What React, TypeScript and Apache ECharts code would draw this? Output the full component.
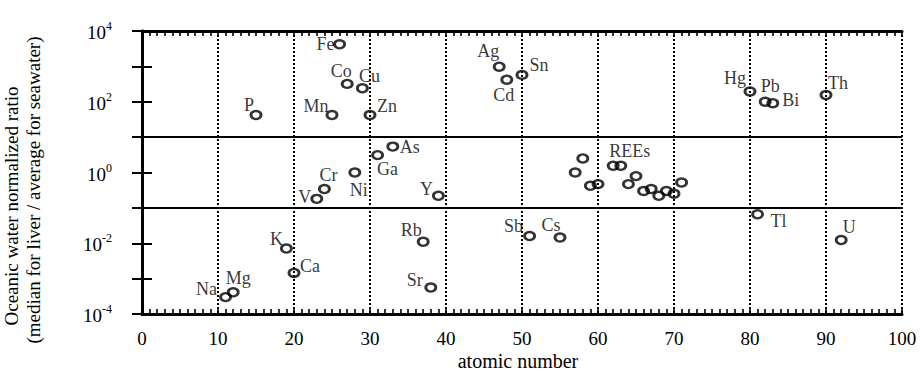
import React, { useEffect, useRef } from "react";
import * as echarts from "echarts";

const elements = ["Na","Mg","P","K","Ca","V","Cr","Mn","Fe","Co","Ni","Cu","Zn","Ga","As","Rb","Sr","Y","Ag","Cd","Sn","Sb","Cs","La","Ce","Pr","Nd","Sm","Eu","Gd","Tb","Dy","Ho","Er","Tm","Yb","Lu","Hg","Tl","Pb","Bi","Th","U"];
const atomicNumbers = [11,12,15,19,20,23,24,25,26,27,28,29,30,31,33,37,38,39,47,48,50,51,55,57,58,59,60,62,63,64,65,66,67,68,69,70,71,80,81,82,83,90,92];
const ratios = [3.0e-4,4.1e-4,42,7.1e-3,1.45e-3,0.18,0.34,42,4200,320,1.0,240,42,3.1,5.4,0.011,5.6e-4,0.22,980,420,575,0.016,0.0145,1.0,2.5,0.42,0.47,1.55,1.55,0.47,0.79,0.30,0.34,0.22,0.30,0.25,0.52,195,0.066,100,91,155,0.0123];

const yTitleLines = ["Oceanic water normalized ratio", "(median for liver / average for seawater)"];
const xTitle = "atomic number";

// label text overrides (REE group labelled once)
const labelText: Record<string, string> = { Eu: "REEs" };
// label offsets in px relative to marker centre
const labelOffsets: Record<string, [number, number]> = {
  Fe: [-14, 0], Co: [-6, -13], Cu: [7, -12], Mn: [-16, -9], Zn: [17, -9], P: [-7, -10],
  As: [17, 0], Ga: [10, 14], Ni: [4, 17], Cr: [4, -14], V: [-12, -2], Y: [-12, -7],
  K: [-10, -10], Ca: [16, -7], Na: [-19, -8], Mg: [5, -14], Rb: [-12, -12], Sr: [-16, -8],
  Ag: [-11, -16], Cd: [-3, 15], Sn: [17, -10], Hg: [-15, -13], Pb: [5, -16], Bi: [18, -3],
  Th: [12, -12], Eu: [9, -15], Sb: [-16, -10], Cs: [-9, -13], Tl: [21, 7], U: [8, -13],
};
const guideLevels = [10, 0.1];

const FONT = "Liberation Serif";

export default function App() {
  const ref = useRef<HTMLDivElement>(null);
  useEffect(() => {
    if (!ref.current) return;
    const chart = echarts.init(ref.current, undefined, { renderer: "svg" });
    const data = elements.map((el, i) => {
      const off = labelOffsets[el];
      return {
        name: el,
        value: [atomicNumbers[i], ratios[i]],
        label: off
          ? {
              show: true,
              position: "inside",
              offset: off,
              formatter: labelText[el] ?? el,
              align: "center",
              verticalAlign: "middle",
            }
          : { show: false },
      };
    });
    const xCommon = {
      type: "value",
      min: 0,
      max: 100,
      interval: 10,
      axisLine: { show: true, lineStyle: { color: "#000", width: 3 } },
      axisTick: { show: true, inside: true, length: 6, lineStyle: { color: "#000", width: 1.6 } },
      minorTick: { show: true, splitNumber: 10, length: 5, lineStyle: { color: "#000", width: 1.6 } },
    };
    const yCommon = {
      type: "log",
      logBase: 10,
      min: 1e-4,
      max: 1e4,
      interval: 1,
      axisLine: { show: true, lineStyle: { color: "#000", width: 3 } },
      axisTick: { show: true, inside: true, length: 10, lineStyle: { color: "#000", width: 2 } },
      splitLine: { show: false },
      minorTick: { show: false },
    };
    chart.setOption({
      animation: false,
      backgroundColor: "#fff",
      textStyle: { fontFamily: FONT, color: "#000" },
      grid: { left: 142, right: 19, top: 31, bottom: 57, containLabel: false, outerBoundsMode: "none" },
      graphic: [
        {
          type: "text",
          x: 11,
          y: 206,
          rotation: Math.PI / 2,
          style: { text: yTitleLines[0], font: `19px "${FONT}"`, fill: "#000", align: "center", verticalAlign: "middle" },
        },
        {
          type: "text",
          x: 33,
          y: 190,
          rotation: Math.PI / 2,
          style: { text: yTitleLines[1], font: `19px "${FONT}"`, fill: "#000", align: "center", verticalAlign: "middle" },
        },
        {
          type: "text",
          x: 518,
          y: 361,
          style: { text: xTitle, font: `20px "${FONT}"`, fill: "#000", align: "center", verticalAlign: "middle" },
        },
      ],
      xAxis: [
        {
          ...xCommon,
          position: "bottom",
          axisLabel: { show: true, margin: 15, fontFamily: FONT, fontSize: 19, color: "#000" },
          splitLine: { show: true, lineStyle: { color: "#000", width: 2, type: [2, 2] } },
        },
        {
          ...xCommon,
          position: "top",
          axisLabel: { show: false },
          splitLine: { show: false },
        },
      ],
      yAxis: [
        {
          ...yCommon,
          position: "left",
          axisLabel: {
            show: true,
            margin: 30,
            formatter: (v: number) => {
              const e = Math.round(Math.log10(v));
              if (e % 2 !== 0) return "";
              return `{b|10}{s|${e}}`;
            },
            rich: {
              b: { fontFamily: FONT, fontSize: 19, color: "#000", lineHeight: 22, verticalAlign: "bottom" },
              s: { fontFamily: FONT, fontSize: 12, color: "#000", lineHeight: 22, verticalAlign: "top" },
            },
          },
        },
        {
          ...yCommon,
          position: "right",
          axisLabel: { show: false },
        },
      ],
      series: [
        {
          type: "scatter",
          xAxisIndex: 0,
          yAxisIndex: 0,
          symbol: "circle",
          symbolSize: [10, 8],
          itemStyle: { color: "rgba(255,255,255,0)", borderColor: "#000", borderWidth: 2.6 },
          label: { fontFamily: FONT, fontSize: 18, color: "#000" },
          data,
          markLine: {
            silent: true,
            symbol: ["none", "none"],
            label: { show: false },
            lineStyle: { color: "#000", width: 2, type: "solid" },
            data: guideLevels.map((v) => ({ yAxis: v })),
          },
          z: 5,
        },
      ],
    });
    return () => chart.dispose();
  }, []);
  return (
    <div
      ref={ref}
      style={{ position: "absolute", left: 0, top: 0, width: 921, height: 371 }}
    />
  );
}
